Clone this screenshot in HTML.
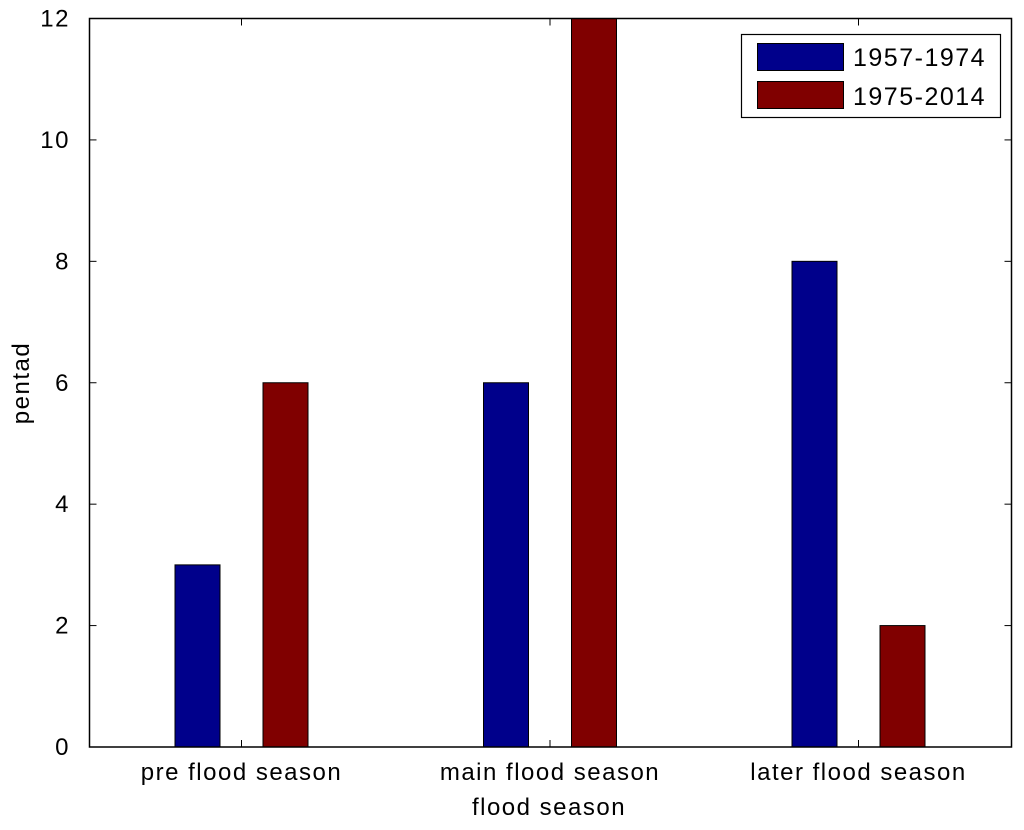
<!DOCTYPE html>
<html><head><meta charset="utf-8"><style>
html,body{margin:0;padding:0;background:#fff;width:1024px;height:830px;overflow:hidden}
svg text{font-family:"Liberation Sans",sans-serif;font-size:24px;letter-spacing:1.5px;fill:#000}
</style></head><body>
<svg id="chart" width="1024" height="830" xmlns="http://www.w3.org/2000/svg">
<g id="bars"></g>
<rect x="89.5" y="18.5" width="922" height="728.5" fill="none" stroke="#000" stroke-width="1.5"/>
<g id="ticks"></g>
<text x="549" y="815" text-anchor="middle">flood season</text>
<text transform="translate(29,383) rotate(-90)" text-anchor="middle">pentad</text>
<g>
<rect x="741.5" y="34.5" width="259" height="83" fill="#fff" stroke="#000" stroke-width="1.2"/>
<rect x="757.5" y="43.5" width="86" height="27" fill="#00008b" stroke="#000"/>
<text x="853" y="66" style="font-size:25px">1957-1974</text>
<rect x="757.5" y="81.5" width="86" height="27" fill="#800000" stroke="#000"/>
<text x="853" y="105" style="font-size:25px">1975-2014</text>
</g>
</svg>
<script>
const categories=["pre flood season","main flood season","later flood season"];
const series1957=[3,6,8];
const series1975=[6,12,2];
const yTicks=[0,2,4,6,8,10,12];
const NS="http://www.w3.org/2000/svg";
const L=89.5,R=1011.5,T=18.5,B=747;
function y(v){return B-(v/12)*(B-T);}
function xc(i){return 241.5+i*308.5;}
const bars=document.getElementById('bars'),ticks=document.getElementById('ticks');
function mk(tag,attrs,parent){const e=document.createElementNS(NS,tag);for(const k in attrs)e.setAttribute(k,attrs[k]);parent.appendChild(e);return e;}
categories.forEach((c,i)=>{
  [[series1957,-44,'#00008b','1957-1974'],[series1975,44,'#800000','1975-2014']].forEach(s=>{
    const v=s[0][i];const cx=xc(i)+s[1];
    const r=mk('rect',{x:cx-22.5,y:y(v),width:45,height:B-y(v),fill:s[2],stroke:'#000','stroke-width':1},bars);
    
    
  });
  const t1=mk('line',{x1:xc(i),x2:xc(i),y1:B,y2:B-7,stroke:'#000'},ticks);
  
  
  const t2=mk('line',{x1:xc(i),x2:xc(i),y1:T,y2:T+7,stroke:'#000'},ticks);
  
  
  const tx=mk('text',{x:xc(i),y:780,'text-anchor':'middle'},ticks);tx.textContent=c;
  
  
});
yTicks.forEach(v=>{
  const a=mk('line',{x1:L,x2:L+7,y1:y(v),y2:y(v),stroke:'#000'},ticks);
  
  
  const b=mk('line',{x1:R-7,x2:R,y1:y(v),y2:y(v),stroke:'#000'},ticks);
  
  
  const t=mk('text',{x:70,y:y(v)+8,'text-anchor':'end'},ticks);t.textContent=v;
  
  
});
</script>
</body></html>
